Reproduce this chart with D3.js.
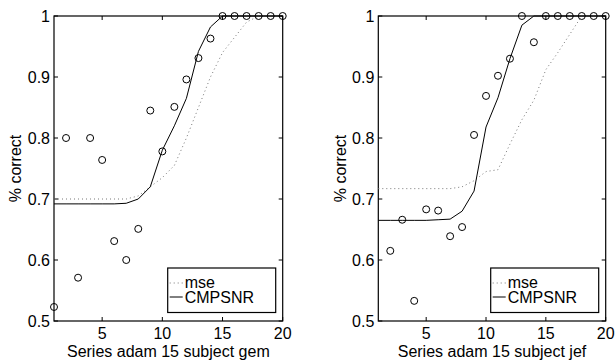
<!DOCTYPE html>
<html>
<head>
<meta charset="utf-8">
<script src="https://cdn.jsdelivr.net/npm/d3@7"></script>
<style>
  body { margin: 0; background: #fff; }
  text { font-family: "Liberation Sans", Arial, sans-serif; font-size: 16px; fill: #000; }
</style>
</head>
<body>
<div></div>
<script>
var subjects = [1, 2, 3, 4, 5, 6, 7, 8, 9, 10, 11, 12, 13, 14, 15, 16, 17, 18, 19, 20];

// subject gem
var gemCircles = [0.523, 0.80, 0.571, 0.80, 0.764, 0.631, 0.60, 0.651, 0.845, 0.778,
    0.851, 0.896, 0.931, 0.963, 1, 1, 1, 1, 1, 1];
var gemMse = [0.70, 0.70, 0.70, 0.70, 0.70, 0.70, 0.70, 0.705, 0.72, 0.735,
    0.755, 0.80, 0.85, 0.90, 0.94, 0.965, 0.99, 1, 1, 1];
var gemCmpsnr = [0.692, 0.692, 0.692, 0.692, 0.692, 0.692, 0.693, 0.70, 0.72, 0.78,
    0.82, 0.865, 0.942, 0.982, 1, 1, 1, 1, 1, 1];

// subject jef (first point is below the axis range)
var jefCircles = [null, 0.615, 0.666, 0.533, 0.683, 0.681, 0.639, 0.654, 0.805, 0.869,
    0.902, 0.930, 1, 0.957, 1, 1, 1, 1, 1, 1];
var jefMse = [0.717, 0.717, 0.717, 0.717, 0.717, 0.717, 0.717, 0.72, 0.73, 0.745,
    0.748, 0.79, 0.83, 0.862, 0.912, 0.94, 0.97, 1, 1, 1];
var jefCmpsnr = [0.665, 0.665, 0.665, 0.665, 0.665, 0.666, 0.667, 0.68, 0.713, 0.818,
    0.866, 0.93, 0.985, 1, 1, 1, 1, 1, 1, 1];

var xTicks = [5, 10, 15, 20];
var yTicks = [0.5, 0.6, 0.7, 0.8, 0.9, 1];
var legendLabels = ["mse", "CMPSNR"];

var svg = d3.select("div").append("svg")
    .attr("width", 616)
    .attr("height", 364);

function drawPanel(left, right, circles, mse, cmpsnr, xlabel, ylabelX) {
    var top = 16, bottom = 321;
    var x = d3.scaleLinear().domain([1, 20]).range([left, right]);
    var y = d3.scaleLinear().domain([0.5, 1]).range([bottom, top]);
    var g = svg.append("g");

    // axes box
    g.append("rect")
        .attr("x", left).attr("y", top)
        .attr("width", right - left).attr("height", bottom - top)
        .attr("fill", "none").attr("stroke", "#000").attr("stroke-width", 1.2);

    // inward ticks on all four sides
    var tl = 4;
    xTicks.forEach(function (t) {
        g.append("line").attr("x1", x(t)).attr("x2", x(t)).attr("y1", bottom).attr("y2", bottom - tl).attr("stroke", "#000");
        g.append("line").attr("x1", x(t)).attr("x2", x(t)).attr("y1", top).attr("y2", top + tl).attr("stroke", "#000");
        g.append("text").attr("x", x(t)).attr("y", 339).attr("text-anchor", "middle").text(t);
    });
    yTicks.forEach(function (t) {
        g.append("line").attr("x1", left).attr("x2", left + tl).attr("y1", y(t)).attr("y2", y(t)).attr("stroke", "#000");
        g.append("line").attr("x1", right).attr("x2", right - tl).attr("y1", y(t)).attr("y2", y(t)).attr("stroke", "#000");
        g.append("text").attr("x", left - 4).attr("y", y(t)).attr("dy", "0.36em")
            .attr("text-anchor", "end").text(t === 1 ? "1" : d3.format(".1f")(t));
    });

    var line = d3.line()
        .x(function (d, i) { return x(subjects[i]); })
        .y(function (d) { return y(d); });

    g.append("path").attr("d", line(mse))
        .attr("fill", "none").attr("stroke", "#777").attr("stroke-width", 1)
        .attr("stroke-dasharray", "1,3");
    g.append("path").attr("d", line(cmpsnr))
        .attr("fill", "none").attr("stroke", "#000").attr("stroke-width", 1);

    g.selectAll("circle.pt")
        .data(circles.map(function (v, i) { return { s: subjects[i], v: v }; })
            .filter(function (d) { return d.v !== null; }))
        .enter().append("circle")
        .attr("cx", function (d) { return x(d.s); })
        .attr("cy", function (d) { return y(d.v); })
        .attr("r", 3.5)
        .attr("fill", "none").attr("stroke", "#000").attr("stroke-width", 1);

    // legend
    var lx = right - 115, ly = 268;
    g.append("rect").attr("x", lx).attr("y", ly).attr("width", 108).attr("height", 44.5)
        .attr("fill", "#fff").attr("stroke", "#000").attr("stroke-width", 1.2);
    g.append("line").attr("x1", lx + 2).attr("x2", lx + 15).attr("y1", ly + 15).attr("y2", ly + 15)
        .attr("stroke", "#777").attr("stroke-dasharray", "1,3");
    g.append("line").attr("x1", lx + 2).attr("x2", lx + 15).attr("y1", ly + 29).attr("y2", ly + 29)
        .attr("stroke", "#000");
    g.append("text").attr("x", lx + 17).attr("y", ly + 19.5).text(legendLabels[0]);
    g.append("text").attr("x", lx + 17).attr("y", ly + 35).text(legendLabels[1]);

    // axis labels
    g.append("text").attr("x", (left + right) / 2).attr("y", 357)
        .attr("text-anchor", "middle").text(xlabel);
    g.append("text")
        .attr("transform", "translate(" + ylabelX + "," + ((top + bottom) / 2) + ") rotate(-90)")
        .attr("text-anchor", "middle").text("% correct");
}

drawPanel(54, 282.7, gemCircles, gemMse, gemCmpsnr, "Series adam 15 subject gem", 21);
drawPanel(378.3, 605.7, jefCircles, jefMse, jefCmpsnr, "Series adam 15 subject jef", 346);
</script>
</body>
</html>
